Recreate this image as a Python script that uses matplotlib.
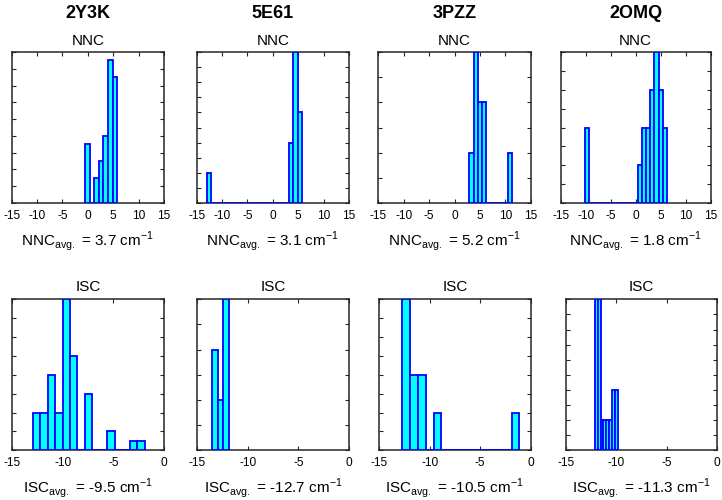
import numpy as np
import matplotlib
matplotlib.use('Agg')
import matplotlib.pyplot as plt

plt.rcParams['font.family'] = ['Liberation Sans', 'DejaVu Sans']
plt.rcParams['mathtext.fontset'] = 'custom'
plt.rcParams['mathtext.rm'] = 'Liberation Sans'
plt.rcParams['axes.unicode_minus'] = False

proteins = ['2Y3K', '5E61', '3PZZ', '2OMQ']

# NNC histograms: (min, max) of the binned data and counts per bin
nnc_range = [(-0.55, 5.8), (-13.03, 5.75), (2.91, 11.27), (-10.13, 6.2)]
nnc_counts = [
    [7, 0, 3, 5, 8, 17, 15],
    [1, 0, 0, 0, 0, 0, 0, 0, 0, 0, 0, 0, 0, 0, 0, 0, 0, 0, 0, 2, 5, 3],
    [1, 3, 2, 2, 0, 0, 0, 0, 0, 1],
    [2, 0, 0, 0, 0, 0, 0, 0, 0, 0, 0, 0, 0, 1, 2, 2, 3, 4, 3, 2],
]
nnc_ymax = [18, 5, 3, 4]
nnc_ystep = [2, 0.5, 0.5, 0.5]
nnc_avg = [3.7, 3.1, 5.2, 1.8]

# ISC histograms
isc_range = [(-12.99, -1.91), (-13.52, -11.86), (-12.69, -1.12), (-12.13, -9.88)]
isc_counts = [
    [4, 4, 8, 4, 16, 10, 0, 6, 0, 0, 2, 0, 0, 1, 1],
    [2, 1, 3],
    [4, 2, 2, 0, 1, 0, 0, 0, 0, 0, 0, 0, 0, 0, 1],
    [5, 5, 1, 1, 1, 1, 2, 2],
]
isc_ymax = [16, 3, 4, 5]
isc_ystep = [2, 0.5, 0.5, 0.5]
isc_avg = [-9.5, -12.7, -10.5, -11.3]

W, H = 722, 500
fig = plt.figure(figsize=(W / 100, H / 100), dpi=100)

# axes boxes in pixels (left, right), rows given by (top, bottom)
top_x = [(11.7, 164), (196.7, 349), (378.3, 530.7), (560.7, 710.7)]
bot_x = [(12.3, 164), (197.3, 349), (379, 530.7), (566, 717.3)]
top_y = (52, 203)
bot_y = (299.3, 450.3)


def px_axes(xs, ys):
    return fig.add_axes([xs[0] / W, 1 - ys[1] / H, (xs[1] - xs[0]) / W, (ys[1] - ys[0]) / H])


def draw_hist(ax, rng, counts, ymax, ystep, xlim, xticks):
    edges = np.linspace(rng[0], rng[1], len(counts) + 1)
    ax.bar(edges[:-1], counts, width=np.diff(edges), align='edge',
           color='#00FFFF', edgecolor='#0000FF', linewidth=1.3, zorder=3)
    ax.set_xlim(*xlim)
    ax.set_ylim(0, ymax)
    ax.set_xticks(xticks)
    ax.set_yticks(np.arange(0, ymax + ystep / 2, ystep))
    ax.set_yticklabels([])
    ax.tick_params(direction='in', length=3, width=0.8, top=True, right=True,
                   labelsize=8.6, pad=5, colors='#262626', labelcolor='black')
    for s in ax.spines.values():
        s.set_color('#262626')
        s.set_linewidth(1.1)


for i in range(4):
    ax = px_axes(top_x[i], top_y)
    draw_hist(ax, nnc_range[i], nnc_counts[i], nnc_ymax[i], nnc_ystep[i],
              (-15, 15), [-15, -10, -5, 0, 5, 10, 15])
    cx = (top_x[i][0] + top_x[i][1]) / 2
    fig.text(cx / W, 1 - 14 / H, proteins[i], ha='center', va='center',
             fontsize=13, fontweight='bold')
    fig.text(cx / W, 1 - 41 / H, 'NNC', ha='center', va='center', fontsize=11)
    fig.text(cx / W, 1 - 241 / H,
             r'NNC$_{\mathregular{avg.}}$ = %.1f cm$^{\mathregular{-1}}$' % nnc_avg[i],
             ha='center', va='center', fontsize=11)

    ax = px_axes(bot_x[i], bot_y)
    draw_hist(ax, isc_range[i], isc_counts[i], isc_ymax[i], isc_ystep[i],
              (-15, 0), [-15, -10, -5, 0])
    cx = (bot_x[i][0] + bot_x[i][1]) / 2
    fig.text(cx / W, 1 - 287 / H, 'ISC', ha='center', va='center', fontsize=11)
    fig.text(cx / W, 1 - 488 / H,
             r'ISC$_{\mathregular{avg.}}$ = %.1f cm$^{\mathregular{-1}}$' % isc_avg[i],
             ha='center', va='center', fontsize=11)

fig.savefig('out.png', dpi=100)
